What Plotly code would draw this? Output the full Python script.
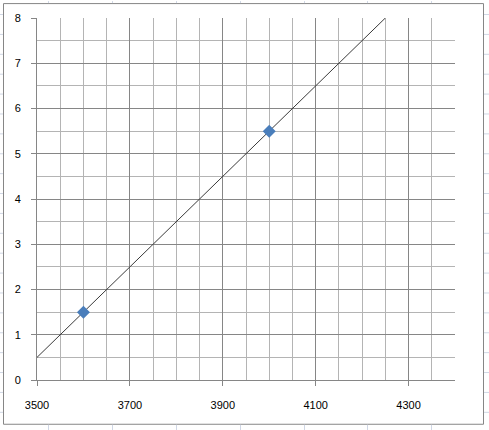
import numpy as np
import plotly.graph_objects as go

# Data
x_points = [3600, 4000]
y_points = [1.5, 5.5]
trend_x_range = [3500, 4250]
x_tick_vals = [3500, 3700, 3900, 4100, 4300]
y_tick_vals = [0, 1, 2, 3, 4, 5, 6, 7, 8]

W, H = 489, 430
L, R, T, B = 37, 455, 16, 380

coef = np.polyfit(x_points, y_points, 1)
tx = np.array(trend_x_range, dtype=float)
ty = np.polyval(coef, tx)

MAJOR = "#868686"
MINOR = "#b4b4b4"
SHEET = "#d0d7e5"

fig = go.Figure()
fig.add_trace(go.Scatter(x=tx, y=ty, mode="lines",
                         line=dict(color="#3a3a3a", width=1), hoverinfo="skip"))
fig.add_trace(go.Scatter(x=x_points, y=y_points, mode="markers",
                         marker=dict(symbol="diamond", size=10, color="#4a7ebb",
                                     line=dict(width=0))))

def px(xp):
    return (xp - L) / (R - L)

def py(yp):
    return (B - yp) / (B - T)

shapes = []
# chart frame
shapes.append(dict(type="rect", xref="paper", yref="paper",
                   x0=px(3.5), x1=px(483.5), y0=py(1.5), y1=py(424.5),
                   line=dict(color=MAJOR, width=1), layer="above"))
# spreadsheet gridlines outside the frame
for cx in [48, 112, 176, 240, 304, 367, 431]:
    shapes.append(dict(type="line", xref="paper", yref="paper",
                       x0=px(cx + 0.5), x1=px(cx + 0.5), y0=py(425), y1=py(431),
                       line=dict(color=SHEET, width=1)))
    shapes.append(dict(type="line", xref="paper", yref="paper",
                       x0=px(cx + 0.5), x1=px(cx + 0.5), y0=py(-1), y1=py(1),
                       line=dict(color=SHEET, width=1)))
for ry in range(12, 430, 20):
    shapes.append(dict(type="line", xref="paper", yref="paper",
                       x0=px(-1), x1=px(3), y0=py(ry + 0.5), y1=py(ry + 0.5),
                       line=dict(color=SHEET, width=1)))
    shapes.append(dict(type="line", xref="paper", yref="paper",
                       x0=px(484), x1=px(490), y0=py(ry + 0.5), y1=py(ry + 0.5),
                       line=dict(color=SHEET, width=1)))

fig.update_layout(
    width=W, height=H,
    margin=dict(l=L, r=W - R, t=T, b=H - B),
    paper_bgcolor="white", plot_bgcolor="white",
    showlegend=False,
    font=dict(family="Liberation Sans, Arial, sans-serif", size=11, color="#000000"),
    shapes=shapes,
)
fig.update_xaxes(
    range=[3500, 4400], tickvals=x_tick_vals, ticks="outside", ticklen=5,
    tickcolor=MAJOR, showgrid=True, gridcolor=MAJOR, gridwidth=1,
    showline=True, linecolor=MAJOR, linewidth=1, zeroline=False,
    ticklabelstandoff=10,
    minor=dict(dtick=50, tick0=3500, showgrid=True, gridcolor=MINOR, gridwidth=1, ticks=""),
)
fig.update_yaxes(
    range=[0, 8], tickvals=y_tick_vals, ticks="outside", ticklen=5,
    tickcolor=MAJOR, showgrid=True, gridcolor=MAJOR, gridwidth=1,
    showline=True, linecolor=MAJOR, linewidth=1, zeroline=False,
    ticklabelstandoff=8,
    minor=dict(dtick=0.5, tick0=0, showgrid=True, gridcolor=MINOR, gridwidth=1, ticks=""),
)

fig.write_html("out.html", config={"displayModeBar": False},
               post_script="document.body.style.margin='0';")
